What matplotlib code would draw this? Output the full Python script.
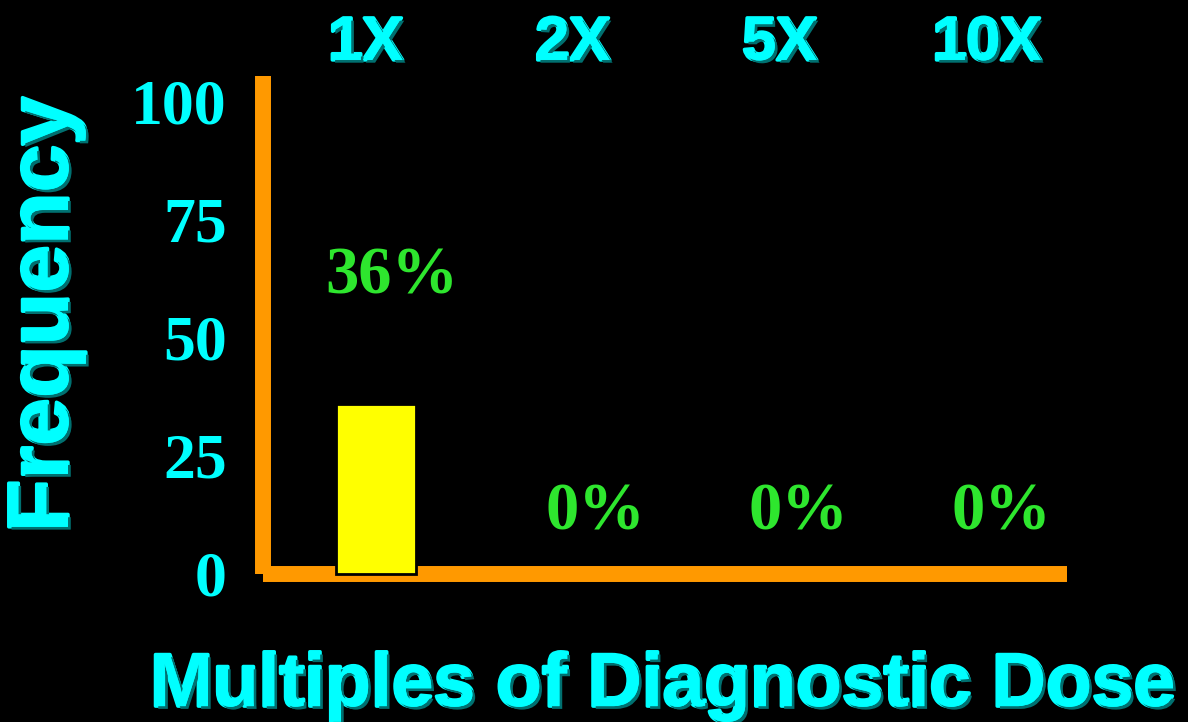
import matplotlib
matplotlib.use("Agg")
import matplotlib.pyplot as plt
import matplotlib.patheffects as pe
from matplotlib.transforms import blended_transform_factory

CYAN, GREEN, ORANGE, YELLOW = "#00FFFF", "#2EE62E", "#FF9900", "#FFFF00"
# heavy cyan lettering with a dark teal drop shadow
HEAVY = [pe.withStroke(linewidth=2.5, foreground=CYAN),
         pe.withSimplePatchShadow(offset=(2, -2), shadow_rgbFace="#007070", alpha=1.0),
         pe.Normal()]

doses = ["1X", "2X", "5X", "10X"]
frequency = [36, 0, 0, 0]
yticks = [0, 25, 50, 75, 100]
label_gap = [27, 13, 13, 13]

fig = plt.figure(figsize=(11.88, 7.22), dpi=100, facecolor="black")
ax = fig.add_axes([263 / 1188, 148 / 722, 804 / 1188, 498 / 722], facecolor="black")

x = list(range(len(doses)))
ax.bar(x, frequency, width=0.39, color=YELLOW, edgecolor="black",
       linewidth=[2 if v > 0 else 0 for v in frequency], zorder=3, clip_on=False)

for i, v in enumerate(frequency):
    ax.text(i + 0.08, v + label_gap[i], f"{v}%", ha="center", va="center",
            fontsize=48, fontweight="bold", family="Liberation Serif", color=GREEN)

# column headers sit a little wider apart than the bars
top = blended_transform_factory(ax.transData, fig.transFigure)
for i, name in enumerate(doses):
    ax.text(i * 1.02 - 0.05, 0.917, name, transform=top, ha="center", va="baseline",
            fontsize=44, fontweight="bold", family="Liberation Sans", color=CYAN,
            path_effects=HEAVY)

ax.set_xlim(-0.557, 3.404)
ax.set_ylim(0, 105.5)
ax.set_xticks([])
ax.set_yticks(yticks)
ax.set_yticklabels([str(t) for t in yticks], fontsize=46, fontweight="bold",
                   family="Liberation Serif", color=CYAN)
ax.tick_params(axis="y", length=0, pad=26)

for side in ("top", "right"):
    ax.spines[side].set_visible(False)
for side in ("left", "bottom"):
    ax.spines[side].set_color(ORANGE)
    ax.spines[side].set_linewidth(11.5)
    ax.spines[side].set_capstyle("butt")

fig.text(46 / 1188, 0.564, "Frequency", rotation=90, ha="center", va="center",
         fontsize=62, fontweight="bold", family="Liberation Sans", color=CYAN,
         path_effects=HEAVY)
fig.text(0.558, 0.022, "Multiples of Diagnostic Dose", ha="center", va="baseline",
         fontsize=54, fontweight="bold", family="Liberation Sans", color=CYAN,
         path_effects=HEAVY)

fig.savefig("out.png", dpi=100, facecolor="black")
